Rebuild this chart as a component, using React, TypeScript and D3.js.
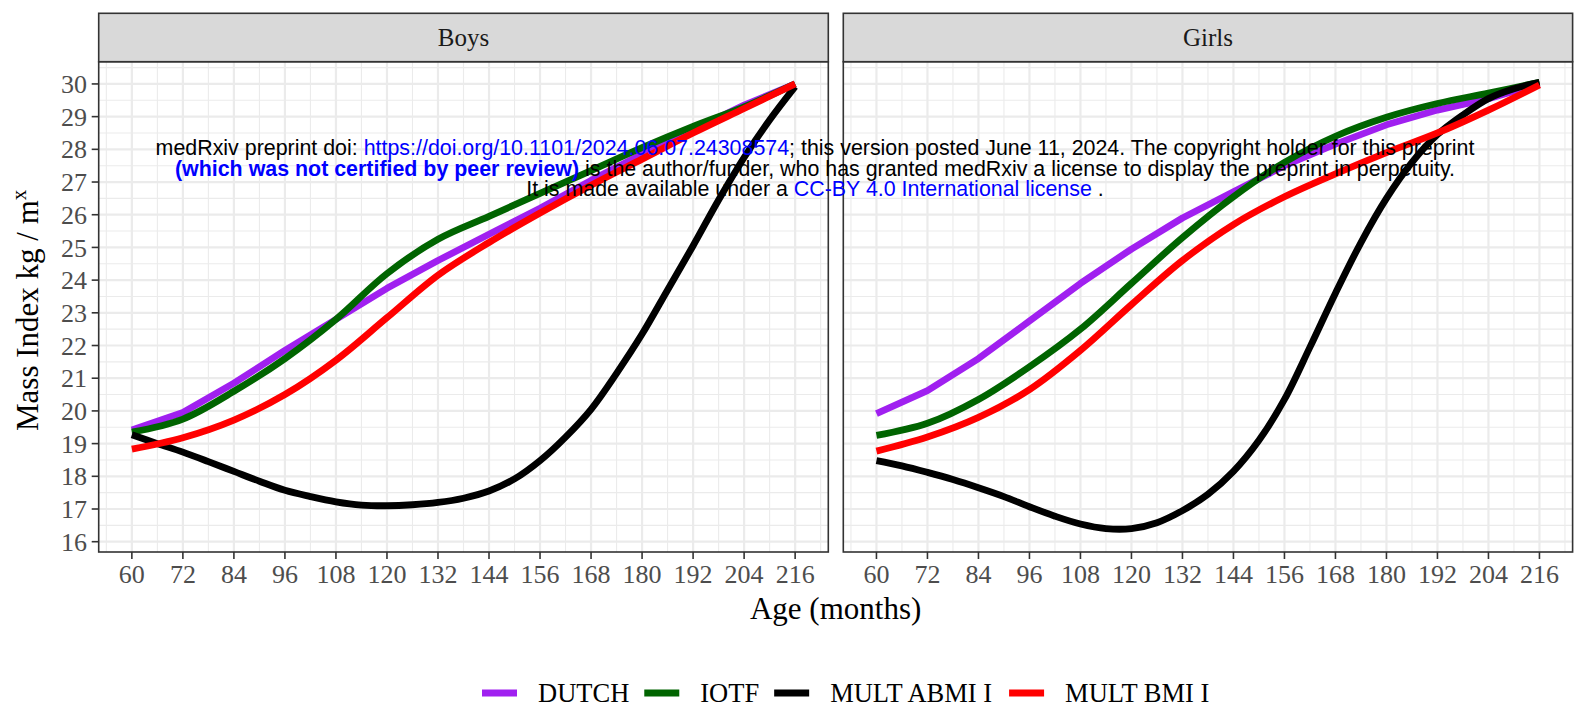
import React, { useMemo } from 'react';
import * as d3 from 'd3';

// ---------- data ----------
const AGES = [60, 72, 84, 96, 108, 120, 132, 144, 156, 168, 180, 192, 204, 216];
const AGES_HALF = [60, 66, 72, 78, 84, 90, 96, 102, 108, 114, 120, 126, 132, 138, 144, 150, 156, 162, 168, 174, 180, 186, 192, 198, 204, 210, 216];
const X_TICKS = [60, 72, 84, 96, 108, 120, 132, 144, 156, 168, 180, 192, 204, 216];
const Y_TICKS = [16, 17, 18, 19, 20, 21, 22, 23, 24, 25, 26, 27, 28, 29, 30];

const boysDutch = [19.42, 19.95, 20.85, 21.85, 22.8, 23.75, 24.6, 25.4, 26.2, 27.05, 27.85, 28.6, 29.35, 30.0];
const boysIotf = [19.35, 19.75, 20.6, 21.6, 22.8, 24.2, 25.25, 25.95, 26.65, 27.35, 28.05, 28.7, 29.3, 30.0];
const boysBmi = [18.83, 19.18, 19.72, 20.5, 21.55, 22.85, 24.15, 25.15, 26.05, 26.9, 27.7, 28.5, 29.25, 30.0];
const boysAbmi = [19.27, 19.0, 18.74, 18.45, 18.15, 17.85, 17.57, 17.38, 17.22, 17.12, 17.1, 17.13, 17.2, 17.33, 17.55, 17.92, 18.48, 19.2, 20.05, 21.15, 22.35, 23.7, 25.05, 26.45, 27.75, 28.9, 29.92];

const girlsDutch = [19.92, 20.62, 21.6, 22.75, 23.9, 24.95, 25.9, 26.7, 27.5, 28.16, 28.75, 29.2, 29.55, 30.0];
const girlsIotf = [19.25, 19.62, 20.35, 21.35, 22.5, 23.9, 25.3, 26.55, 27.6, 28.4, 28.98, 29.4, 29.72, 30.05];
const girlsBmi = [18.77, 19.2, 19.8, 20.65, 21.85, 23.25, 24.6, 25.7, 26.55, 27.25, 27.9, 28.5, 29.2, 29.97];
const girlsAbmi = [18.48, 18.32, 18.12, 17.9, 17.65, 17.38, 17.07, 16.78, 16.54, 16.4, 16.4, 16.58, 16.95, 17.45, 18.15, 19.1, 20.35, 21.95, 23.6, 25.15, 26.5, 27.6, 28.45, 29.05, 29.55, 29.85, 30.05];

const SERIES_NAMES = ['DUTCH', 'IOTF', 'MULT ABMI I', 'MULT BMI I'];
const SERIES_COLORS = ['#A020F0', '#006400', '#000000', '#FF0000'];
const PANEL_LABELS = ['Boys', 'Girls'];

// ---------- layout ----------
const W = 1575, H = 708;
const PANEL_X = [[98.7, 828.3], [843.3, 1572.6]];
const Y_TOP = 61.7, Y_BOT = 552, STRIP_TOP = 13.3;
const SERIF = "'Liberation Serif', 'Times New Roman', serif";
const SANS = "'Liberation Sans', Arial, Helvetica, sans-serif";

function measure(text: string, font: string) {
  const c = document.createElement('canvas').getContext('2d');
  if (!c) return text.length * 12;
  c.font = font;
  return c.measureText(text).width;
}

export default function App() {
  const y = d3.scaleLinear().domain([15.685, 30.68]).range([Y_BOT, Y_TOP]);
  const smooth = d3.curveCatmullRom.alpha(0.5);
  const panelData = [
    [
      { ages: AGES, vals: boysDutch, curve: d3.curveLinear },
      { ages: AGES, vals: boysIotf, curve: smooth },
      { ages: AGES_HALF, vals: boysAbmi, curve: smooth },
      { ages: AGES, vals: boysBmi, curve: smooth },
    ],
    [
      { ages: AGES, vals: girlsDutch, curve: d3.curveLinear },
      { ages: AGES, vals: girlsIotf, curve: smooth },
      { ages: AGES_HALF, vals: girlsAbmi, curve: smooth },
      { ages: AGES, vals: girlsBmi, curve: smooth },
    ],
  ];

  const minorY = d3.range(15.5, 31, 1).filter((v) => v > 15.685 && v < 30.68);
  const minorX = d3.range(54, 224, 12);

  const legendFont = `26.5px ${SERIF}`;
  const legendItems = useMemo(() => {
    let x = 482;
    return SERIES_NAMES.map((n, i) => {
      const w = measure(n, legendFont);
      const item = { name: n, color: SERIES_COLORS[i], kx: x, tx: x + 35 + 21 };
      x = x + 35 + 21 + w + 15;
      return item;
    });
  }, []);

  return (
    <svg width={W} height={H} style={{ position: 'absolute', left: 0, top: 0, background: '#fff' }}>
      <rect x={0} y={0} width={W} height={H} fill="#fff" />
      {PANEL_X.map(([x0, x1], pi) => {
        const x = d3.scaleLinear().domain([52.2, 223.8]).range([x0, x1]);
        return (
          <g key={pi}>
            <rect x={x0} y={Y_TOP} width={x1 - x0} height={Y_BOT - Y_TOP} fill="#fff" />
            {minorY.map((v) => (
              <line key={'my' + v} x1={x0} x2={x1} y1={y(v)} y2={y(v)} stroke="#EBEBEB" strokeWidth={1.1} />
            ))}
            {minorX.map((v) => (
              <line key={'mx' + v} x1={x(v)} x2={x(v)} y1={Y_TOP} y2={Y_BOT} stroke="#EBEBEB" strokeWidth={1.1} />
            ))}
            {Y_TICKS.map((v) => (
              <line key={'Y' + v} x1={x0} x2={x1} y1={y(v)} y2={y(v)} stroke="#EBEBEB" strokeWidth={2.2} />
            ))}
            {X_TICKS.map((v) => (
              <line key={'X' + v} x1={x(v)} x2={x(v)} y1={Y_TOP} y2={Y_BOT} stroke="#EBEBEB" strokeWidth={2.2} />
            ))}
            {panelData[pi].map((s, si) => {
              const pts = s.ages.map((a, k) => [a, s.vals[k]] as [number, number]);
              const line = d3.line<[number, number]>().x((d) => x(d[0])).y((d) => y(d[1])).curve(s.curve);
              return (
                <path key={si} d={line(pts) || ''} fill="none" stroke={SERIES_COLORS[si]} strokeWidth={6.8} strokeLinejoin="round" strokeLinecap="butt" />
              );
            })}
            <rect x={x0} y={Y_TOP} width={x1 - x0} height={Y_BOT - Y_TOP} fill="none" stroke="#333333" strokeWidth={1.6} />
            <rect x={x0} y={STRIP_TOP} width={x1 - x0} height={Y_TOP - STRIP_TOP} fill="#D9D9D9" stroke="#333333" strokeWidth={1.6} />
            <text x={(x0 + x1) / 2} y={(STRIP_TOP + Y_TOP) / 2} dy="0.35em" textAnchor="middle" fontFamily={SERIF} fontSize={25} fill="#1A1A1A">
              {PANEL_LABELS[pi]}
            </text>
            {X_TICKS.map((v) => (
              <g key={'xt' + v}>
                <line x1={x(v)} x2={x(v)} y1={Y_BOT} y2={Y_BOT + 7} stroke="#333333" strokeWidth={1.6} />
                <text x={x(v)} y={583} textAnchor="middle" fontFamily={SERIF} fontSize={26} fill="#4D4D4D">
                  {v}
                </text>
              </g>
            ))}
          </g>
        );
      })}
      {Y_TICKS.map((v) => (
        <g key={'yt' + v}>
          <line x1={PANEL_X[0][0] - 7} x2={PANEL_X[0][0]} y1={y(v)} y2={y(v)} stroke="#333333" strokeWidth={1.6} />
          <text x={87} y={y(v)} dy="0.35em" textAnchor="end" fontFamily={SERIF} fontSize={26} fill="#4D4D4D">
            {v}
          </text>
        </g>
      ))}
      <text x={(PANEL_X[0][0] + PANEL_X[1][1]) / 2} y={619} textAnchor="middle" fontFamily={SERIF} fontSize={31} fill="#000">
        Age (months)
      </text>
      <text transform="translate(38,431) rotate(-90)" textAnchor="start" fontFamily={SERIF} fontSize={31} fill="#000">
        Mass Index kg / m
        <tspan fontSize={21} dy={-12}>x</tspan>
      </text>

      {/* watermark */}
      <g fontFamily={SANS} fontSize={21.4} textAnchor="middle">
        <text x={815} y={155}>
          <tspan fill="#000">medRxiv preprint doi: </tspan>
          <tspan fill="#0000FF">https://doi.org/10.1101/2024.06.07.24308574</tspan>
          <tspan fill="#000">; this version posted June 11, 2024. The copyright holder for this preprint</tspan>
        </text>
        <text x={815} y={175.5}>
          <tspan fill="#0000FF" fontWeight="bold">(which was not certified by peer review)</tspan>
          <tspan fill="#000"> is the author/funder, who has granted medRxiv a license to display the preprint in perpetuity.</tspan>
        </text>
        <text x={815} y={196}>
          <tspan fill="#000">It is made available under a </tspan>
          <tspan fill="#0000FF">CC-BY 4.0 International license</tspan>
          <tspan fill="#000"> .</tspan>
        </text>
      </g>

      {/* legend */}
      {legendItems.map((it) => (
        <g key={it.name}>
          <line x1={it.kx} x2={it.kx + 35} y1={693} y2={693} stroke={it.color} strokeWidth={6.8} />
          <text x={it.tx} y={693} dy="0.35em" fontFamily={SERIF} fontSize={26.5} fill="#000">
            {it.name}
          </text>
        </g>
      ))}
    </svg>
  );
}
